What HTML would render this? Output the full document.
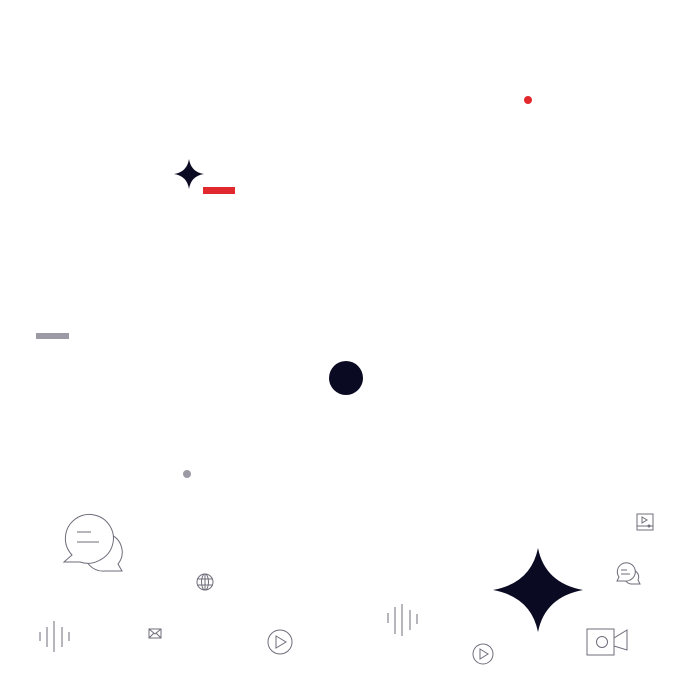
<!DOCTYPE html>
<html><head><style>html,body{margin:0;padding:0;background:#fff}svg{display:block}</style></head>
<body>
<svg width="680" height="680" viewBox="0 0 680 680" xmlns="http://www.w3.org/2000/svg">
<circle cx="528" cy="100" r="4" fill="#e0282e"/>
<rect x="203" y="187" width="32" height="7" fill="#e0282e"/>
<path d="M189 159 Q191 172 204 174 Q191 176 189 189 Q187 176 174 174 Q187 172 189 159Z" fill="#0a0a23"/>
<rect x="36" y="333" width="33" height="6" fill="#9b9aa5"/>
<circle cx="346" cy="378" r="17" fill="#0a0a23"/>
<circle cx="187" cy="474" r="4" fill="#9b9aa5"/>
<path d="M538 548 Q545 583 583 590 Q545 597 538 632 Q531 597 493 590 Q531 583 538 548Z" fill="#0a0a23"/>
<g fill="#fff" stroke="#6e6d7a" stroke-width="1">
<path d="M105 571 L122 571 L118 564 A19 19 0 1 0 105 571Z"/>
<path d="M100 560 A24 24 0 1 0 72 555 L64 562 L80 562 A24 24 0 0 0 100 560Z"/>
<line x1="77" y1="532" x2="91" y2="532"/><line x1="77" y1="542" x2="99" y2="542"/>
<path d="M632 584 L640 584 L638 580 A7 7 0 1 0 632 584Z"/>
<path d="M630 580 A9 9 0 1 0 619 577 L617 581 L624 581 A9 9 0 0 0 630 580Z"/>
<line x1="621" y1="570" x2="627" y2="570"/><line x1="621" y1="574" x2="630" y2="574"/>
</g>
<g fill="none" stroke="#6e6d7a" stroke-width="1">
<circle cx="205" cy="582" r="8"/><ellipse cx="205" cy="582" rx="3.5" ry="8"/><line x1="197" y1="579" x2="213" y2="579"/><line x1="197" y1="585" x2="213" y2="585"/><line x1="205" y1="574" x2="205" y2="590"/>
<rect x="149" y="629" width="12" height="9"/><path d="M149 629 L155 634 L161 629 M149 638 L154 633 M161 638 L156 633"/>
<circle cx="280" cy="642" r="12"/><path d="M276 636 L286 642 L276 648Z"/>
<circle cx="483" cy="654" r="10"/><path d="M480 649 L488 654 L480 659Z"/>
<path d="M40 632v9 M47 627v20 M54 621v31 M62 627v20 M69 632v9"/>
<path d="M388 613v10 M395 607v27 M402 604v32 M410 610v20 M417 614v10"/>
<rect x="587" y="629" width="27" height="26"/><circle cx="602" cy="642" r="5.5"/><path d="M614 638 L627 630 L627 650 L614 646"/>
<rect x="637" y="514" width="16" height="16"/><path d="M642 517 L647 520 L642 523Z"/><line x1="637" y1="526" x2="653" y2="526"/><circle cx="649" cy="526" r="1"/>
</g>
</svg>
</body></html>
